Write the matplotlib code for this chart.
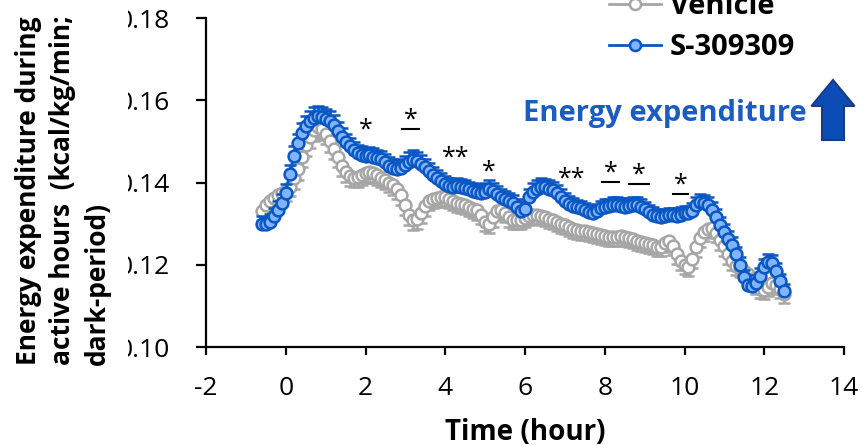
import numpy as np
import matplotlib
matplotlib.use("Agg")
import matplotlib.pyplot as plt
from matplotlib.lines import Line2D
from matplotlib.patches import FancyArrow, Rectangle

plt.rcParams['font.family'] = ['Open Sans', 'DejaVu Sans']
plt.rcParams['axes.unicode_minus'] = False

# sampling times (hours from dark onset), one point every 6 min
time_h = np.round(np.arange(-0.6, 12.51, 0.1), 1)

vehicle = [
    0.1330, 0.1345, 0.1355, 0.1362, 0.1370, 0.1375, 0.1380, 0.1390, 0.1410, 0.1432,
    0.1462, 0.1490, 0.1510, 0.1528, 0.1535, 0.1530, 0.1518, 0.1500, 0.1482, 0.1462,
    0.1440, 0.1425, 0.1415, 0.1412, 0.1413, 0.1418, 0.1422, 0.1425, 0.1423, 0.1418,
    0.1412, 0.1406, 0.1400, 0.1394, 0.1385, 0.1370, 0.1345, 0.1322, 0.1310, 0.1312,
    0.1325, 0.1342, 0.1355, 0.1360, 0.1363, 0.1365, 0.1364, 0.1360, 0.1355, 0.1350,
    0.1348, 0.1345, 0.1340, 0.1336, 0.1332, 0.1322, 0.1305, 0.1300, 0.1315, 0.1330,
    0.1333, 0.1325, 0.1315, 0.1309, 0.1308, 0.1310, 0.1314, 0.1318, 0.1320, 0.1320,
    0.1318, 0.1316, 0.1312, 0.1308, 0.1305, 0.1300, 0.1296, 0.1292, 0.1288, 0.1285,
    0.1283, 0.1281, 0.1279, 0.1277, 0.1275, 0.1272, 0.1270, 0.1268, 0.1267, 0.1268,
    0.1270, 0.1268, 0.1266, 0.1262, 0.1258, 0.1255, 0.1252, 0.1250, 0.1247, 0.1244,
    0.1244, 0.1252, 0.1258, 0.1245, 0.1225, 0.1210, 0.1200, 0.1195, 0.1215, 0.1243,
    0.1265, 0.1280, 0.1288, 0.1290, 0.1278, 0.1260, 0.1245, 0.1225, 0.1210, 0.1198,
    0.1192, 0.1185, 0.1178, 0.1165, 0.1150, 0.1142, 0.1138, 0.1145, 0.1155, 0.1150,
    0.1140, 0.1130]
vehicle_sem = [
    0.0022, 0.0022, 0.0023, 0.0023, 0.0023, 0.0024, 0.0024, 0.0024, 0.0025, 0.0025,
    0.0025, 0.0026, 0.0026, 0.0026, 0.0026, 0.0026, 0.0025, 0.0025, 0.0025, 0.0024,
    0.0024, 0.0024, 0.0024, 0.0023, 0.0023, 0.0023, 0.0023, 0.0023, 0.0023, 0.0023,
    0.0023, 0.0023, 0.0023, 0.0024, 0.0024, 0.0024, 0.0025, 0.0025, 0.0025, 0.0025,
    0.0024, 0.0024, 0.0023, 0.0023, 0.0023, 0.0023, 0.0023, 0.0022, 0.0022, 0.0022,
    0.0022, 0.0022, 0.0022, 0.0022, 0.0022, 0.0022, 0.0023, 0.0023, 0.0022, 0.0022,
    0.0022, 0.0022, 0.0022, 0.0022, 0.0022, 0.0022, 0.0022, 0.0022, 0.0022, 0.0022,
    0.0022, 0.0022, 0.0022, 0.0022, 0.0022, 0.0022, 0.0022, 0.0022, 0.0022, 0.0022,
    0.0022, 0.0022, 0.0022, 0.0022, 0.0022, 0.0022, 0.0022, 0.0022, 0.0022, 0.0022,
    0.0022, 0.0022, 0.0022, 0.0022, 0.0022, 0.0022, 0.0022, 0.0022, 0.0022, 0.0022,
    0.0022, 0.0022, 0.0022, 0.0022, 0.0023, 0.0023, 0.0023, 0.0023, 0.0023, 0.0023,
    0.0023, 0.0023, 0.0023, 0.0023, 0.0023, 0.0023, 0.0023, 0.0022, 0.0022, 0.0022,
    0.0022, 0.0022, 0.0022, 0.0022, 0.0022, 0.0022, 0.0022, 0.0022, 0.0022, 0.0022,
    0.0022, 0.0022]

s309309 = [
    0.1300, 0.1298, 0.1305, 0.1318, 0.1334, 0.1350, 0.1375, 0.1420, 0.1465, 0.1495,
    0.1520, 0.1538, 0.1550, 0.1558, 0.1562, 0.1560, 0.1555, 0.1550, 0.1540, 0.1525,
    0.1510, 0.1498, 0.1488, 0.1478, 0.1472, 0.1468, 0.1465, 0.1466, 0.1462, 0.1460,
    0.1457, 0.1450, 0.1440, 0.1435, 0.1432, 0.1435, 0.1442, 0.1450, 0.1455, 0.1452,
    0.1445, 0.1437, 0.1428, 0.1418, 0.1410, 0.1403, 0.1396, 0.1392, 0.1390, 0.1392,
    0.1390, 0.1387, 0.1383, 0.1380, 0.1377, 0.1375, 0.1378, 0.1385, 0.1380, 0.1372,
    0.1365, 0.1360, 0.1355, 0.1350, 0.1340, 0.1330, 0.1335, 0.1365, 0.1378, 0.1385,
    0.1390, 0.1388, 0.1385, 0.1382, 0.1375, 0.1365, 0.1355, 0.1348, 0.1343, 0.1340,
    0.1337, 0.1333, 0.1328, 0.1325, 0.1330, 0.1337, 0.1340, 0.1342, 0.1345, 0.1345,
    0.1343, 0.1340, 0.1343, 0.1346, 0.1345, 0.1340, 0.1335, 0.1328, 0.1322, 0.1318,
    0.1316, 0.1318, 0.1320, 0.1320, 0.1318, 0.1322, 0.1326, 0.1325, 0.1330, 0.1345,
    0.1352, 0.1350, 0.1345, 0.1333, 0.1315, 0.1297, 0.1280, 0.1262, 0.1248, 0.1225,
    0.1200, 0.1170, 0.1150, 0.1148, 0.1156, 0.1172, 0.1195, 0.1207, 0.1204, 0.1185,
    0.1160, 0.1135]
s309309_sem = [
    0.0018, 0.0018, 0.0019, 0.0020, 0.0020, 0.0021, 0.0022, 0.0022, 0.0023, 0.0023,
    0.0024, 0.0024, 0.0025, 0.0025, 0.0025, 0.0024, 0.0024, 0.0023, 0.0023, 0.0022,
    0.0022, 0.0021, 0.0021, 0.0021, 0.0020, 0.0020, 0.0020, 0.0021, 0.0021, 0.0020,
    0.0020, 0.0020, 0.0021, 0.0021, 0.0022, 0.0022, 0.0022, 0.0023, 0.0023, 0.0022,
    0.0021, 0.0021, 0.0020, 0.0020, 0.0020, 0.0019, 0.0019, 0.0019, 0.0019, 0.0019,
    0.0019, 0.0019, 0.0019, 0.0019, 0.0019, 0.0019, 0.0020, 0.0020, 0.0020, 0.0019,
    0.0019, 0.0019, 0.0019, 0.0019, 0.0019, 0.0019, 0.0020, 0.0020, 0.0021, 0.0021,
    0.0021, 0.0020, 0.0020, 0.0020, 0.0019, 0.0019, 0.0019, 0.0019, 0.0019, 0.0018,
    0.0018, 0.0018, 0.0018, 0.0018, 0.0018, 0.0019, 0.0019, 0.0019, 0.0019, 0.0019,
    0.0019, 0.0019, 0.0019, 0.0019, 0.0019, 0.0019, 0.0018, 0.0018, 0.0018, 0.0018,
    0.0018, 0.0018, 0.0018, 0.0018, 0.0018, 0.0018, 0.0018, 0.0019, 0.0019, 0.0020,
    0.0020, 0.0020, 0.0020, 0.0020, 0.0020, 0.0020, 0.0019, 0.0019, 0.0019, 0.0019,
    0.0019, 0.0018, 0.0018, 0.0018, 0.0019, 0.0019, 0.0020, 0.0020, 0.0019, 0.0019,
    0.0018, 0.0018]

# significance marks: x (h), y (value), text, underline half-width (0 = none)
star_x = [2.0, 3.13, 4.25, 5.1, 7.18, 8.15, 8.85, 9.9]
star_y = [0.1527, 0.1552, 0.1459, 0.1425, 0.1408, 0.1423, 0.1418, 0.1394]
star_txt = ['*', '*', '**', '*', '**', '*', '*', '*']
star_bar = [0, 0.22, 0, 0, 0, 0.21, 0.25, 0.2]

gray = '#a6a6a6'
blue_edge = '#0a56c2'
blue_face = '#80b4ff'

fig = plt.figure(figsize=(8.63, 4.45), dpi=100)
ax = fig.add_axes([206/863, 1-347/445, (844-206)/863, (347-18)/445])

n = len(time_h)
ax.errorbar(time_h, vehicle, yerr=[vehicle_sem, [0]*n], fmt='-o', color=gray, lw=2,
            ms=8.5, mfc='white', mec=gray, mew=1.8, ecolor=gray, elinewidth=1.8,
            capsize=4, capthick=1.8, zorder=2)
ax.errorbar(time_h, s309309, yerr=[[0]*n, s309309_sem], fmt='-o', color=blue_edge, lw=2,
            ms=8.5, mfc=blue_face, mec=blue_edge, mew=1.8, ecolor=blue_edge, elinewidth=1.8,
            capsize=4, capthick=1.8, zorder=3)

for x, y, t, w in zip(star_x, star_y, star_txt, star_bar):
    ax.text(x, y, t, ha='center', va='center', fontsize=18, color='black', zorder=5)
    if w:
        ax.plot([x - w, x + w], [y - 0.0021, y - 0.0021], color='black', lw=1.5, zorder=5)

ax.set_xlim(-2, 14)
ax.set_ylim(0.10, 0.18)
ax.set_xticks(range(-2, 15, 2))
ax.set_yticks([0.10, 0.12, 0.14, 0.16, 0.18])
ax.set_yticklabels(['%.2f' % v for v in ax.get_yticks()])
for s in ['top', 'right']:
    ax.spines[s].set_visible(False)
for s in ['left', 'bottom']:
    ax.spines[s].set_linewidth(1.6)
ax.tick_params(axis='y', direction='out', length=7, width=1.6, labelsize=19, pad=19)
ax.tick_params(axis='x', direction='out', length=6, width=1.6, labelsize=19, pad=15)

# the axis title box hides the leading digit of the tick labels
fig.add_artist(Rectangle((0, 0), 128/863, 1, transform=fig.transFigure,
                         facecolor='white', edgecolor='none', zorder=3))
fig.text(63/863, 1-190/445,
         'Energy expenditure during\nactive hours  (kcal/kg/min;\ndark-period)',
         rotation=90, ha='center', va='center', multialignment='left',
         fontsize=19, fontweight='bold', linespacing=1.35, zorder=4)
fig.text(525/863, 1-432/445, 'Time (hour)', ha='center', va='center',
         fontsize=20, fontweight='bold')

handles = [Line2D([], [], color=gray, lw=2, marker='o', ms=8, mfc='white', mec=gray, mew=1.8),
           Line2D([], [], color=blue_edge, lw=2, marker='o', ms=8, mfc=blue_face, mec=blue_edge, mew=1.8)]
fig.legend(handles, ['Vehicle', 'S-309309'], loc='upper left',
           bbox_to_anchor=(594/863, 1.05), frameon=False, borderpad=0,
           handlelength=1.8, handletextpad=0.3, labelspacing=0.4,
           prop={'weight': 'bold', 'size': 21})

fig.text(807/863, 1-113/445, 'Energy expenditure', ha='right', va='center',
         color='#1a5cc0', fontsize=21, fontweight='bold')
fig.add_artist(FancyArrow(833/863, 1-140/445, 0, 60/445, width=22/863,
                          head_width=43/863, head_length=26/445,
                          length_includes_head=True, transform=fig.transFigure,
                          facecolor='#0b4db5', edgecolor='#1d3b85', lw=1.5))

fig.savefig('out.png', dpi=100)
